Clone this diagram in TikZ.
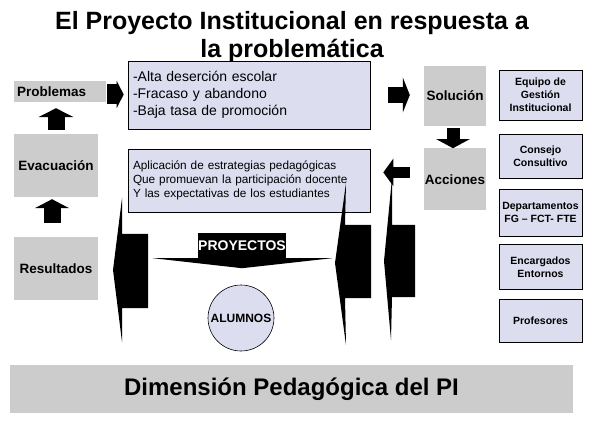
\documentclass[tikz,border=0pt]{standalone}
\usepackage{fontspec}
\setmainfont{Liberation Sans}
\usepackage{tikz}
\usetikzlibrary{positioning,arrows.meta,calc}
\definecolor{boxGray}{HTML}{CCCCCC}
\definecolor{lavender}{HTML}{DDDDF0}

\begin{document}
\begin{tikzpicture}[
  x=1pt, y=-1pt,
  every node/.style={inner sep=0pt},
  graybox/.style={fill=boxGray, font=\bfseries\fontsize{13.5}{16}\selectfont, align=center},
  textbox/.style={draw=black, line width=0.6pt, fill=lavender, minimum width=242pt,
               text width=232pt, align=left},
  rolebox/.style={draw=black, line width=0.6pt, fill=lavender, minimum width=83pt,
               align=center, font=\bfseries\fontsize{10.5}{13}\selectfont},
  fatarrow/.style n args={3}{line width=#1, -{Triangle[width=#2,length=#3]}}
]
  \useasboundingbox (0,0) rectangle (595,425);

  \node[font=\bfseries\fontsize{25}{28}\selectfont, align=center] (title) at (292,37.5)
    {El Proyecto Institucional en respuesta a\\la problemática};

  % left column
  \node[graybox, minimum width=92pt, minimum height=21pt, text width=86pt, align=left] (prob) at (60,91.5) {Problemas};
  \node[graybox, minimum width=84pt, minimum height=63pt] (eva) at (56,165.5) {Evacuación};
  \node[graybox, minimum width=84pt, minimum height=63pt, below=40pt of eva] (res) {Resultados};

  % middle boxes
  \node[textbox, minimum height=68pt, font=\fontsize{14}{17}\selectfont] (list) at (249,95)
    {-Alta deserción escolar\\-Fracaso y abandono\\-Baja tasa de promoción};
  \node[textbox, minimum height=63pt, font=\fontsize{11.8}{14}\selectfont] (strat) at (249,180.5)
    {Aplicación de estrategias pedagógicas\\Que promuevan la participación docente\\Y las expectativas de los estudiantes};

  \node[graybox, minimum width=62pt, minimum height=60pt] (sol) at (455,96) {Solución};
  \node[graybox, minimum width=62pt, minimum height=62pt, below=22pt of sol] (acc) {Acciones};

  % right column
  \node[rolebox, minimum height=50pt] (equipo) at (540.5,95) {Equipo de\\Gestión\\Institucional};
  \node[rolebox, minimum height=44pt, below=14pt of equipo] (consejo) {Consejo\\Consultivo};
  \node[rolebox, minimum height=47pt, below=10pt of consejo] (deptos) {Departamentos\\FG – FCT- FTE};
  \node[rolebox, minimum height=44pt, below=8pt of deptos] (encarg) {Encargados\\Entornos};
  \node[rolebox, minimum height=43pt, below=10pt of encarg] (prof) {Profesores};

  % proyectos / alumnos
  \node[fill=black, text=white, font=\bfseries\fontsize{14}{16}\selectfont,
        minimum width=88pt, minimum height=25pt] (proy) at (242,245.5) {PROYECTOS};
  \fill ($(proy.south)+(-89,0)$) -- ($(proy.south)+(90,0)$) -- ($(proy.south)+(0,10)$) -- cycle;
  \node[circle, draw=black, line width=0.6pt, fill=lavender, minimum size=66pt,
        font=\bfseries\fontsize{12}{14}\selectfont] (alum) at (241,318) {ALUMNOS};

  % tall callout arrows
  \fill (148,234) -- (122,234) -- (122,198) -- (113,270) -- (122,342) -- (122,308) -- (148,308) -- cycle;
  \fill (371,225) -- (345,225) -- (346,183) -- (335,263) -- (346,345) -- (345,298) -- (371,298) -- cycle;
  \fill (415,225) -- (392,225) -- (392,178) -- (384,261) -- (391,340) -- (392,297) -- (415,297) -- cycle;

  % block arrows
  \draw[fatarrow={17pt}{35pt}{9pt}, shorten <=4pt, shorten >=6pt] (eva.north) -- (eva.north |- prob.south);
  \draw[fatarrow={17pt}{34pt}{9pt}, shorten <=14pt, shorten >=2pt] ([xshift=-4pt]res.north) -- ([xshift=-4pt]eva.south);
  \draw[fatarrow={20pt}{27pt}{7pt}, shorten <=1pt, shorten >=4pt] ([yshift=-3pt]prob.east) -- ([yshift=-3pt]prob.east -| list.west);
  \draw[fatarrow={16pt}{35pt}{7pt}, shorten <=18pt, shorten >=14pt] (list.east) -- (list.east -| sol.west);
  \draw[fatarrow={13pt}{33pt}{9pt}, shorten <=2pt] ([xshift=-2pt]sol.south) -- ([xshift=-2pt]acc.north);
  \draw[fatarrow={11pt}{27pt}{10pt}, shorten <=14pt, shorten >=13pt] ([yshift=7pt]acc.west) -- ([yshift=7pt]acc.west -| strat.east);

  % bottom band
  \node[fill=boxGray, minimum width=563pt, minimum height=48pt,
        font=\bfseries\fontsize{24}{28}\selectfont] (dim) at (291.5,389) {Dimensión Pedagógica del PI};
\end{tikzpicture}
\end{document}
